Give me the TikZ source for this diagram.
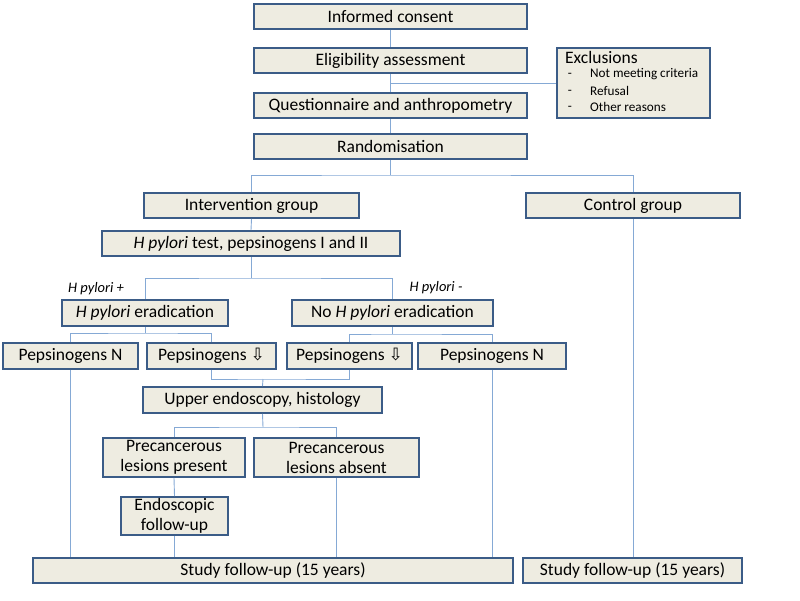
\documentclass[tikz,border=0pt]{standalone}
\usepackage{fontspec}
\setmainfont{Carlito}
\newfontfamily\symfont{DejaVu Sans}
\definecolor{boxfill}{HTML}{EEECE1}
\definecolor{boxline}{HTML}{3B5C87}
\definecolor{conn}{HTML}{85A9D5}
\tikzset{
  box/.style={draw=boxline, line width=1.8pt, fill=boxfill, inner sep=0pt, align=center,
    font=\fontsize{17.5}{20}\selectfont},
  conline/.style={draw=conn, line width=0.9pt},
  smalltxt/.style={inner sep=0pt, font=\fontsize{13.2}{15}\selectfont},
  lbl/.style={inner sep=0pt, font=\fontsize{14.5}{17}\selectfont\itshape},
}
\newcommand{\dnarrow}{{\symfont\fontsize{17}{18}\selectfont ⇩}}
\begin{document}
\begin{tikzpicture}[x=1pt,y=-1pt]
\useasboundingbox (0,0) rectangle (800,600);
\coordinate (c1) at (390.5,83);
\coordinate (c2) at (390.5,175);
\coordinate (c3) at (251,278);
\coordinate (c4) at (145,333);
\coordinate (c5) at (392.5,334);
\coordinate (c6) at (263,379);
\coordinate (c7) at (263,427);
% boxes
\node[box, minimum width=273pt, minimum height=25pt] (consent) at (390.5,16.5) {Informed consent};
\node[box, minimum width=273pt, minimum height=25pt] (elig) at (390.5,60.5) {Eligibility assessment};
\node[box, minimum width=273pt, minimum height=25pt] (quest) at (390.5,105.5) {Questionnaire and anthropometry};
\node[box, minimum width=273pt, minimum height=25pt] (rand) at (390.5,146.5) {Randomisation};
\node[box, minimum width=153pt, minimum height=70pt] (excl) at (633.5,83) {};
\node[box, minimum width=215pt, minimum height=25pt] (interv) at (251.5,205.5) {Intervention group};
\node[box, minimum width=214pt, minimum height=25pt] (control) at (633,205.5) {Control group};
\node[box, minimum width=298pt, minimum height=25pt] (hptest) at (251,243.5) {\textit{H pylori} test, pepsinogens I and II};
\node[box, minimum width=166pt, minimum height=26pt] (erad) at (145,313) {\textit{H pylori} eradication};
\node[box, minimum width=201pt, minimum height=26pt] (noerad) at (392.5,313) {No \textit{H pylori} eradication};
\node[box, minimum width=135pt, minimum height=26pt] (pepN1) at (70.5,356) {Pepsinogens N};
\node[box, minimum width=129pt, minimum height=26pt] (pepD1) at (211.5,356) {Pepsinogens \dnarrow};
\node[box, minimum width=125pt, minimum height=26pt] (pepD2) at (349.5,356) {Pepsinogens \dnarrow};
\node[box, minimum width=148pt, minimum height=26pt] (pepN2) at (492,356) {Pepsinogens N};
\node[box, minimum width=239pt, minimum height=26pt] (endo) at (262.5,400) {Upper endoscopy, histology};
\node[box, minimum width=142pt, minimum height=39pt] (prePres) at (174,457.5) {Precancerous\\lesions present};
\node[box, minimum width=165pt, minimum height=39pt] (preAbs) at (336.5,457.5) {Precancerous\\lesions absent};
\node[box, minimum width=107pt, minimum height=38pt] (endoFU) at (174.5,516) {Endoscopic\\follow-up};
\node[box, minimum width=480pt, minimum height=25pt] (studyL) at (273,570.5) {Study follow-up (15 years)};
\node[box, minimum width=219pt, minimum height=25pt] (studyR) at (632.5,570.5) {Study follow-up (15 years)};
% exclusions text
\node[inner sep=0pt, anchor=west, font=\fontsize{17.5}{20}\selectfont] (exT) at (565,57) {Exclusions};
\node[smalltxt] (d1) at (570,75) {-};
\node[smalltxt] (d2) at (570,92) {-};
\node[smalltxt] (d3) at (570,108) {-};
\node[smalltxt, anchor=west] (e1) at (590,74) {Not meeting criteria};
\node[smalltxt, anchor=west] (e2) at (590,91) {Refusal};
\node[smalltxt, anchor=west] (e3) at (590,107) {Other reasons};
% labels
\node[lbl] (hpplus) at (96,289) {H pylori +};
\node[lbl] (hpminus) at (436,288) {H pylori -};
% connectors
\draw[conline] (consent.south) -- (elig.north);
\draw[conline] (elig.south) -- (quest.north);
\draw[conline] (c1) -- (excl.west);
\draw[conline] (quest.south) -- (rand.north);
\draw[conline] (rand.south) -- (c2);
\draw[conline] (interv.north) |- (c2) -| (control.north);
\draw[conline] (interv.south) -- (hptest.north);
\draw[conline] (hptest.south) -- (c3);
\draw[conline] (erad.north) |- (c3) -| (noerad.north);
\draw[conline] (erad.south) -- (c4);
\draw[conline] (pepN1.north) |- (c4) -| (pepD1.north);
\draw[conline] (noerad.south) -- (c5);
\draw[conline] (pepD2.north) |- (c5) -| (pepN2.north);
\draw[conline] (pepD1.south) |- (c6) -| (pepD2.south);
\draw[conline] (c6) -- (endo.north);
\draw[conline] (endo.south) -- (c7);
\draw[conline] (prePres.north) |- (c7) -| (preAbs.north);
\draw[conline] (prePres.south) -- (endoFU.north);
\draw[conline] (endoFU.south) -- (endoFU.south |- studyL.north);
\draw[conline] (preAbs.south) -- (preAbs.south |- studyL.north);
\draw[conline] (pepN1.south) -- (pepN1.south |- studyL.north);
\draw[conline] (pepN2.south) -- (pepN2.south |- studyL.north);
\draw[conline] (control.south) -- (control.south |- studyR.north);
\end{tikzpicture}
\end{document}
